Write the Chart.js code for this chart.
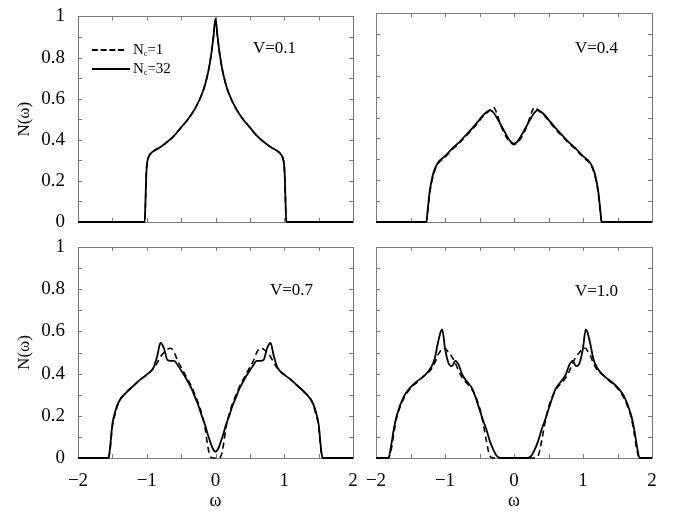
<!DOCTYPE html>
<html>
<head>
<meta charset="utf-8">
<script src="https://cdn.jsdelivr.net/npm/chart.js@4.4.0/dist/chart.umd.min.js"></script>
<style>
  body { margin: 0; background: #fff; }
  #wrap { position: relative; width: 676px; height: 512px; overflow: hidden; }
  #wrap canvas { position: absolute; left: 0; top: 0; }
  .lab { position: absolute; font-family: 'Liberation Serif', 'Times New Roman', serif; color: #000; white-space: nowrap; line-height: 1; }
  .vlab { font-size: 17px; }
  .leg { font-size: 15px; }
  .leg sub { font-size: 8px; vertical-align: -2px; }
  .sample { position: absolute; height: 0; }
</style>
</head>
<body>
<div id="wrap">
  <canvas id="c1" width="676" height="512"></canvas>
  <canvas id="c2" width="676" height="512"></canvas>
  <canvas id="c3" width="676" height="512"></canvas>
  <canvas id="c4" width="676" height="512"></canvas>

  <div class="lab vlab" style="left:253px; top:39px;">V=0.1</div>
  <div class="lab vlab" style="left:575px; top:39px;">V=0.4</div>
  <div class="lab vlab" style="left:270px; top:281px;">V=0.7</div>
  <div class="lab vlab" style="left:575px; top:282px;">V=1.0</div>

  <div class="sample" style="left:92px; top:49px; width:32px; border-top:2px dashed #000;"></div>
  <div class="sample" style="left:92px; top:68px; width:38px; border-top:2px solid #000;"></div>
  <div class="lab leg" style="left:133px; top:42px;">N<sub>c</sub>=1</div>
  <div class="lab leg" style="left:133px; top:61px;">N<sub>c</sub>=32</div>
</div>
<script>
// V = 0.1
const omegaV01 = [-2, -1.03, -1.02, -1.01, -1.0, -0.98, -0.95, -0.9, -0.8, -0.7, -0.6, -0.5, -0.4, -0.3, -0.2, -0.15, -0.1, -0.06, -0.03, 0,
  0.03, 0.06, 0.1, 0.15, 0.2, 0.3, 0.4, 0.5, 0.6, 0.7, 0.8, 0.9, 0.95, 0.98, 1.0, 1.01, 1.02, 1.03, 2];
const nc32V01 = [0, 0, 0.08, 0.2, 0.27, 0.31, 0.33, 0.345, 0.365, 0.39, 0.42, 0.46, 0.5, 0.55, 0.62, 0.67, 0.74, 0.82, 0.9, 0.99,
  0.9, 0.82, 0.74, 0.67, 0.62, 0.55, 0.5, 0.46, 0.42, 0.39, 0.365, 0.345, 0.33, 0.31, 0.27, 0.2, 0.08, 0, 0];
const nc1V01 = [0, 0, 0.08, 0.2, 0.27, 0.31, 0.33, 0.345, 0.365, 0.39, 0.42, 0.46, 0.5, 0.55, 0.62, 0.67, 0.74, 0.82, 0.9, 0.98,
  0.9, 0.82, 0.74, 0.67, 0.62, 0.55, 0.5, 0.46, 0.42, 0.39, 0.365, 0.345, 0.33, 0.31, 0.27, 0.2, 0.08, 0, 0];

// V = 0.4
const omegaV04 = [-2, -1.27, -1.25, -1.22, -1.18, -1.14, -1.1, -1.0, -0.9, -0.8, -0.7, -0.6, -0.5, -0.45, -0.4, -0.35, -0.3, -0.25, -0.2, -0.15, -0.1, -0.05, 0,
  0.05, 0.1, 0.15, 0.2, 0.25, 0.3, 0.35, 0.4, 0.45, 0.5, 0.6, 0.7, 0.8, 0.9, 1.0, 1.1, 1.14, 1.18, 1.22, 1.25, 1.27, 2];
const nc32V04 = [0, 0, 0.06, 0.15, 0.22, 0.26, 0.285, 0.315, 0.35, 0.38, 0.415, 0.45, 0.49, 0.51, 0.525, 0.535, 0.525, 0.5, 0.47, 0.44, 0.41, 0.385, 0.375,
  0.385, 0.41, 0.44, 0.47, 0.5, 0.525, 0.535, 0.525, 0.51, 0.49, 0.45, 0.415, 0.38, 0.35, 0.315, 0.285, 0.26, 0.22, 0.15, 0.06, 0, 0];
const nc1V04 = [0, 0, 0.05, 0.14, 0.21, 0.255, 0.28, 0.31, 0.345, 0.375, 0.41, 0.445, 0.485, 0.505, 0.52, 0.535, 0.55, 0.52, 0.47, 0.43, 0.4, 0.38, 0.37,
  0.38, 0.4, 0.43, 0.47, 0.52, 0.55, 0.535, 0.52, 0.505, 0.485, 0.445, 0.41, 0.375, 0.345, 0.31, 0.28, 0.255, 0.21, 0.14, 0.05, 0, 0];

// V = 0.7
const omegaV07 = [-2, -1.56, -1.54, -1.5, -1.45, -1.4, -1.3, -1.2, -1.1, -1.0, -0.9, -0.85, -0.8, -0.75, -0.7, -0.65, -0.6, -0.55, -0.5, -0.45, -0.4, -0.35, -0.3, -0.25, -0.2, -0.15, -0.12, -0.08, -0.04, 0,
  0.04, 0.08, 0.12, 0.15, 0.2, 0.25, 0.3, 0.35, 0.4, 0.45, 0.5, 0.55, 0.6, 0.65, 0.7, 0.75, 0.8, 0.85, 0.9, 1.0, 1.1, 1.2, 1.3, 1.4, 1.45, 1.5, 1.54, 1.56, 2];
const nc32V07 = [0, 0, 0.03, 0.16, 0.23, 0.27, 0.31, 0.34, 0.37, 0.395, 0.43, 0.48, 0.545, 0.52, 0.465, 0.46, 0.46, 0.44, 0.415, 0.39, 0.36, 0.33, 0.29, 0.25, 0.2, 0.155, 0.12, 0.08, 0.045, 0.03,
  0.045, 0.08, 0.12, 0.155, 0.2, 0.25, 0.29, 0.33, 0.36, 0.39, 0.415, 0.44, 0.46, 0.46, 0.465, 0.52, 0.545, 0.48, 0.43, 0.395, 0.37, 0.34, 0.31, 0.27, 0.23, 0.16, 0.03, 0, 0];
const nc1V07 = [0, 0, 0.02, 0.15, 0.22, 0.27, 0.31, 0.34, 0.37, 0.395, 0.425, 0.45, 0.48, 0.5, 0.515, 0.52, 0.5, 0.46, 0.43, 0.4, 0.37, 0.34, 0.3, 0.26, 0.21, 0.14, 0.07, 0.01, 0, 0,
  0, 0.01, 0.07, 0.14, 0.21, 0.26, 0.3, 0.34, 0.37, 0.4, 0.43, 0.46, 0.5, 0.52, 0.515, 0.5, 0.48, 0.45, 0.425, 0.395, 0.37, 0.34, 0.31, 0.27, 0.22, 0.15, 0.02, 0, 0];

// V = 1.0
const omegaV10 = [-2, -1.82, -1.78, -1.74, -1.7, -1.6, -1.5, -1.4, -1.3, -1.2, -1.15, -1.1, -1.06, -1.04, -1.0, -0.95, -0.9, -0.85, -0.8, -0.75, -0.7, -0.6, -0.5, -0.45, -0.4, -0.35, -0.3, -0.25, -0.2, 0,
  0.2, 0.25, 0.3, 0.35, 0.4, 0.45, 0.5, 0.6, 0.7, 0.75, 0.8, 0.85, 0.9, 0.95, 1.0, 1.04, 1.06, 1.1, 1.15, 1.2, 1.3, 1.4, 1.5, 1.6, 1.7, 1.74, 1.78, 1.82, 2];
const nc32V10 = [0, 0, 0.06, 0.14, 0.2, 0.29, 0.335, 0.365, 0.39, 0.43, 0.47, 0.55, 0.6, 0.61, 0.52, 0.45, 0.435, 0.46, 0.44, 0.395, 0.37, 0.325, 0.23, 0.18, 0.135, 0.08, 0.04, 0.01, 0, 0,
  0, 0.01, 0.04, 0.08, 0.135, 0.18, 0.23, 0.325, 0.37, 0.395, 0.44, 0.46, 0.435, 0.45, 0.52, 0.61, 0.6, 0.55, 0.47, 0.43, 0.39, 0.365, 0.335, 0.29, 0.2, 0.14, 0.06, 0, 0];
const nc1V10 = [0, 0, 0.04, 0.12, 0.19, 0.28, 0.33, 0.36, 0.39, 0.42, 0.45, 0.49, 0.51, 0.52, 0.52, 0.5, 0.48, 0.45, 0.41, 0.38, 0.36, 0.32, 0.24, 0.17, 0.08, 0.01, 0, 0, 0, 0,
  0, 0, 0, 0.01, 0.08, 0.17, 0.24, 0.32, 0.36, 0.38, 0.41, 0.45, 0.48, 0.5, 0.52, 0.52, 0.51, 0.49, 0.45, 0.42, 0.39, 0.36, 0.33, 0.28, 0.19, 0.12, 0.04, 0, 0];

// tick positions for the inward frame ticks
const xMinorTicks = [-2, -1.5, -1, -0.5, 0, 0.5, 1, 1.5, 2];
const yMinorTicks = [0, 0.1, 0.2, 0.3, 0.4, 0.5, 0.6, 0.7, 0.8, 0.9, 1];

Chart.defaults.font.family = "'Liberation Serif', 'Times New Roman', serif";
Chart.defaults.color = '#000';

function pts(xs, ys) {
  return xs.map((x, i) => ({ x: x, y: ys[i] }));
}

// gray frame with small inward ticks on all four sides
const framePlugin = {
  id: 'frame',
  beforeDatasetsDraw(chart) {
    const { ctx, chartArea: a, scales } = chart;
    ctx.save();
    ctx.strokeStyle = '#7a7a7a';
    ctx.lineWidth = 1;
    ctx.strokeRect(Math.round(a.left) + 0.5, Math.round(a.top) + 0.5, Math.round(a.right - a.left), Math.round(a.bottom - a.top));
    ctx.beginPath();
    xMinorTicks.forEach(v => {
      const px = Math.round(scales.x.getPixelForValue(v)) + 0.5;
      ctx.moveTo(px, a.bottom); ctx.lineTo(px, a.bottom - 4);
      ctx.moveTo(px, a.top); ctx.lineTo(px, a.top + 4);
    });
    yMinorTicks.forEach(v => {
      const py = Math.round(scales.y.getPixelForValue(v)) + 0.5;
      ctx.moveTo(a.left, py); ctx.lineTo(a.left + 4, py);
      ctx.moveTo(a.right, py); ctx.lineTo(a.right - 4, py);
    });
    ctx.stroke();
    ctx.restore();
  }
};

function makePanel(id, omega, nc1, nc32, opts) {
  const ctx = document.getElementById(id).getContext('2d');
  new Chart(ctx, {
    type: 'line',
    data: {
      datasets: [{
        label: 'Nc=1',
        data: pts(omega, nc1),
        borderColor: '#000',
        borderWidth: 1.6,
        borderDash: [6, 4],
        pointRadius: 0,
        cubicInterpolationMode: 'monotone',
        clip: 4
      }, {
        label: 'Nc=32',
        data: pts(omega, nc32),
        borderColor: '#000',
        borderWidth: 1.8,
        pointRadius: 0,
        cubicInterpolationMode: 'monotone',
        clip: 4
      }]
    },
    options: {
      responsive: false,
      animation: false,
      events: [],
      layout: { padding: { left: 0, top: opts.top, right: opts.right, bottom: 0 } },
      plugins: { legend: { display: false }, tooltip: { enabled: false } },
      scales: {
        x: {
          type: 'linear',
          min: -2,
          max: 2,
          grid: { display: false },
          border: { display: false },
          ticks: {
            display: opts.xLabels,
            stepSize: 1,
            padding: 4,
            font: { size: 19 },
            color: '#000',
            callback: v => (v < 0 ? '\u2212' + Math.abs(v) : String(v))
          },
          title: { display: opts.xLabels, text: 'ω', font: { size: 18 }, color: '#000', padding: { top: 2, bottom: 0 } },
          afterFit: s => { s.height = opts.xHeight; }
        },
        y: {
          min: 0,
          max: 1,
          grid: { display: false },
          border: { display: false },
          ticks: {
            display: opts.yLabels,
            stepSize: 0.2,
            padding: 5,
            font: { size: 19 },
            color: '#000',
            callback: v => String(Math.round(v * 10) / 10)
          },
          title: { display: opts.yLabels, text: 'N(ω)', font: { size: 17 }, color: '#000', padding: { top: 14, bottom: 0 } },
          afterFit: s => { s.width = opts.yWidth; }
        }
      }
    },
    plugins: [framePlugin]
  });
}

makePanel('c1', omegaV01, nc1V01, nc32V01, { top: 13, right: 323, xHeight: 290, yWidth: 78, xLabels: false, yLabels: true });
makePanel('c2', omegaV04, nc1V04, nc32V04, { top: 13, right: 24, xHeight: 290, yWidth: 376, xLabels: false, yLabels: false });
makePanel('c3', omegaV07, nc1V07, nc32V07, { top: 247, right: 323, xHeight: 54, yWidth: 78, xLabels: true, yLabels: true });
makePanel('c4', omegaV10, nc1V10, nc32V10, { top: 247, right: 24, xHeight: 54, yWidth: 376, xLabels: true, yLabels: false });
</script>
</body>
</html>
